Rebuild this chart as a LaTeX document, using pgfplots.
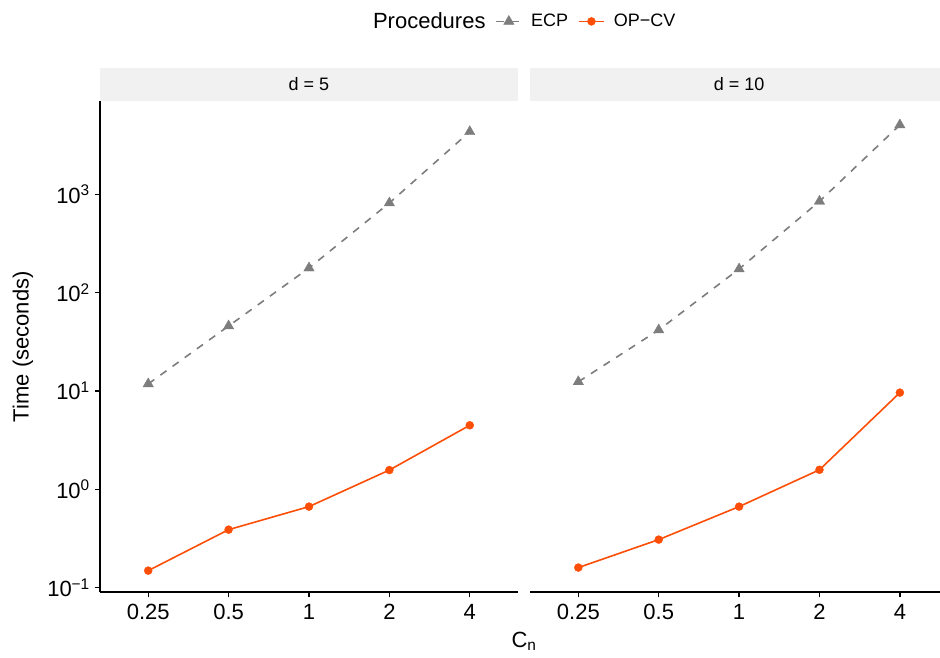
\documentclass[border=0pt]{standalone}
\usepackage{pgfplots}
\pgfplotsset{compat=1.18}
\usepackage{pgfplotstable}
\usepackage{fontspec}
\setmainfont{Liberation Sans}

\definecolor{ecpgray}{RGB}{125,125,125}
\definecolor{opcvorange}{RGB}{252,78,7}
\definecolor{stripbg}{RGB}{241,241,241}

% x = position of the C_n category (0.25, 0.5, 1, 2, 4)
\pgfplotstableread{
x cn   ecp   opcv
0 0.25 11.8  0.149
1 0.5  45.8  0.389
2 1    178   0.667
3 2    816   1.57
4 4    4330  4.48
}\dfive
\pgfplotstableread{
x cn   ecp   opcv
0 0.25 12.4  0.160
1 0.5  41.7  0.308
2 1    174   0.667
3 2    849   1.58
4 4    5070  9.62
}\dten

\tikzset{
  ecpline/.style={ecpgray, line width=1.6pt, dash pattern=on 7.5pt off 7.5pt,
    mark=triangle*, mark size=6pt, mark options={solid, line width=0.4pt}},
  opcvline/.style={opcvorange, line width=1.6pt,
    mark=*, mark size=4pt, mark options={solid, line width=0.4pt}},
}

\begin{document}
\begin{tikzpicture}
\path[use as bounding box] (-100pt,-65.7pt) rectangle (840pt,592.3pt);

\begin{axis}[at={(0pt,0pt)},
    scale only axis, width=418pt, height=491.3pt,
    xmin=-0.6, xmax=4.6,
    ymode=log, ymin=0.0897, ymax=8890,
    yminorticks=false,
    xtick={0,1,2,3,4}, xticklabels={0.25,0.5,1,2,4},
    axis x line*=bottom, axis y line*=left,
    axis line style={line width=1.9pt, black, -},
    tick style={line width=1.3pt, black},
    tick align=outside, major tick length=5pt,
    ticklabel style={font=\fontsize{22}{26}\selectfont},
    xticklabel style={inner sep=0pt, yshift=-7pt},
    yticklabel style={inner sep=0pt, xshift=-5pt},
    clip=false,
    ytick={0.1,1,10,100,1000},
    yticklabels={10\textsuperscript{−1},10\textsuperscript{0},10\textsuperscript{1},10\textsuperscript{2},10\textsuperscript{3}},
    ylabel={Time (seconds)},
    ylabel style={at={(rel axis cs:0,0.5)}, anchor=center, yshift=77pt,
      font=\fontsize{22}{26}\selectfont},
    xlabel={C\textsubscript{n}},
    xlabel style={at={(rel axis cs:0,0)}, xshift=424pt, yshift=-49pt, anchor=center,
      font=\fontsize{22}{26}\selectfont},
    legend columns=3,
    legend style={at={(rel axis cs:1.004,1.162)}, anchor=center, draw=none, fill=none,
      inner sep=0pt, nodes={inner sep=0pt},
      font=\fontsize{18}{21}\selectfont,
      /tikz/every odd column/.append style={column sep=9pt},
      /tikz/every even column/.append style={column sep=10pt}},
    legend image code/.code={\draw[mark repeat=2, mark phase=2, line width=1.6pt] plot coordinates {(0pt,0pt)(12.5pt,0pt)(25pt,0pt)};},
  ]
  \addlegendimage{empty legend}
  \addlegendentry{\fontsize{22}{26}\selectfont Procedures}
  \addplot[ecpline] table[x=x, y=ecp] {\dfive};
  \addlegendentry{ECP}
  \addplot[opcvline] table[x=x, y=opcv] {\dfive};
  \addlegendentry{OP−CV}
  \fill[stripbg] (rel axis cs:0,1) rectangle ([yshift=33pt]rel axis cs:1,1);
  \node[font=\fontsize{18}{21}\selectfont] at ([yshift=16.5pt]rel axis cs:0.5,1) {d = 5};
\end{axis}

\begin{axis}[at={(430.1pt,0pt)},
    scale only axis, width=418pt, height=491.3pt,
    xmin=-0.6, xmax=4.6,
    ymode=log, ymin=0.0897, ymax=8890,
    yminorticks=false,
    xtick={0,1,2,3,4}, xticklabels={0.25,0.5,1,2,4},
    axis x line*=bottom, axis y line=none,
    axis line style={line width=1.9pt, black, -},
    tick style={line width=1.3pt, black},
    tick align=outside, major tick length=5pt,
    ticklabel style={font=\fontsize{22}{26}\selectfont},
    xticklabel style={inner sep=0pt, yshift=-7pt},
    clip=false,
  ]
  \addplot[ecpline] table[x=x, y=ecp] {\dten};
  \addplot[opcvline] table[x=x, y=opcv] {\dten};
  \fill[stripbg] (rel axis cs:0,1) rectangle ([yshift=33pt]rel axis cs:1,1);
  \node[font=\fontsize{18}{21}\selectfont] at ([yshift=16.5pt]rel axis cs:0.5,1) {d = 10};
\end{axis}
\end{tikzpicture}
\end{document}
